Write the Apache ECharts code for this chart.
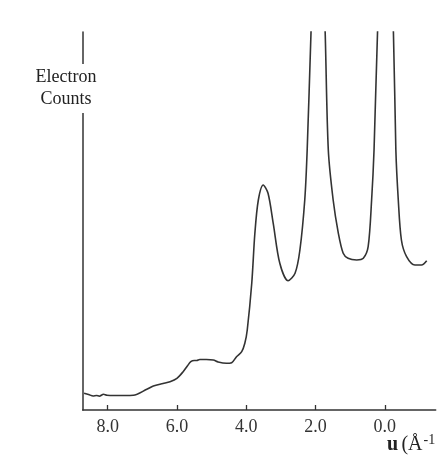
<!DOCTYPE html>
<html>
<head>
<meta charset="utf-8">
<script src="https://cdn.jsdelivr.net/npm/echarts@6/dist/echarts.min.js"></script>
<style>
  html, body { margin: 0; padding: 0; background: #fff; }
  #chart { width: 441px; height: 459px; }
</style>
</head>
<body>
<div id="chart"></div>
<script>
// Scattering vector u (Å^-1) along the profile, high to low
const uValues = [
  8.68, 8.55, 8.42, 8.32, 8.24, 8.12, 8.02, 7.80, 7.50, 7.26,
  6.87, 6.68, 6.40, 6.20, 6.00, 5.82, 5.70, 5.60, 5.50, 5.43, 5.34, 5.15,
  4.95, 4.81, 4.57, 4.42, 4.28, 4.13, 4.04, 3.97, 3.84, 3.75,
  3.65, 3.51, 3.37, 3.22, 3.03, 2.79, 2.59, 2.45, 2.31, 2.24,
  2.13, 2.05, 1.93, 1.80, 1.72, 1.63, 1.49, 1.34, 1.20, 1.06,
  0.81, 0.62, 0.48, 0.38, 0.31, 0.21, 0.10, -0.02, -0.14, -0.25,
  -0.32, -0.39, -0.48, -0.63, -0.87, -1.06, -1.21
];
// Electron counts (arbitrary units)
const counts = [
  16.7, 15.5, 14.0, 14.5, 13.8, 15.7, 14.7, 14.5, 14.5, 14.7,
  20.7, 24.0, 26.5, 28.3, 31.7, 38.3, 44.0, 48.3, 49.5, 49.5, 50.5, 50.5,
  50.0, 48.0, 46.7, 47.3, 53.3, 58.3, 66.7, 80.0, 126.7, 176.7,
  210.0, 225.0, 216.7, 186.7, 146.7, 129.3, 136.7, 160.0, 210.0, 260.0,
  377.0, 460.0, 500.0, 460.0, 377.0, 260.0, 210.0, 176.7, 156.7, 151.7,
  150.0, 151.7, 163.3, 210.0, 260.0, 377.0, 460.0, 500.0, 460.0, 377.0,
  260.0, 210.0, 170.0, 153.3, 145.0, 145.0, 149.3
];
// Labelled tick positions on the u axis
const tickValues = [8, 6, 4, 2, 0];
const tickLabels = ['8.0', '6.0', '4.0', '2.0', '0.0'];

const serif = '"Liberation Serif", "DejaVu Serif", serif';
const ink = '#333';

const chart = echarts.init(document.getElementById('chart'), null, { renderer: 'canvas' });

chart.setOption({
  backgroundColor: '#ffffff',
  animation: false,
  grid: { left: 82.7, right: 5.3, top: 32, bottom: 49, containLabel: false },
  xAxis: {
    type: 'value',
    inverse: true,
    min: -1.47,
    max: 8.72,
    axisLine: { show: true, onZero: false, lineStyle: { color: ink, width: 1.5 } },
    axisTick: {
      show: true, inside: true, length: 5,
      customValues: tickValues,
      lineStyle: { color: ink, width: 1.3 }
    },
    axisLabel: {
      show: true,
      customValues: tickValues,
      formatter: v => tickLabels[tickValues.indexOf(v)] ?? '',
      fontFamily: serif, fontSize: 18, color: '#333', margin: 8
    },
    splitLine: { show: false }
  },
  yAxis: {
    type: 'value',
    position: 'left',
    min: 0,
    max: 378,
    axisLine: { show: true, onZero: false, lineStyle: { color: ink, width: 1.5 } },
    axisTick: { show: false },
    axisLabel: { show: false },
    splitLine: { show: false }
  },
  series: [{
    type: 'line',
    data: uValues.map((u, i) => [u, counts[i]]),
    showSymbol: false,
    smooth: 0.3,
    clip: true,
    lineStyle: { color: ink, width: 1.6 }
  }],
  graphic: {
    elements: [
      // white break in the vertical axis behind its title
      {
        type: 'rect', z: 100, zlevel: 1,
        shape: { x: 30, y: 64, width: 72, height: 49 },
        style: { fill: '#ffffff' }
      },
      {
        type: 'text', z: 101, zlevel: 1, x: 66, y: 88,
        style: {
          text: 'Electron\nCounts',
          font: '18px ' + serif,
          fill: '#222',
          align: 'center', verticalAlign: 'middle',
          lineHeight: 22
        }
      },
      {
        type: 'text', z: 101, zlevel: 1, x: 387, y: 445,
        style: {
          text: '{b|u} {n|(Å}{s|-1}',
          verticalAlign: 'middle',
          rich: {
            b: { font: 'bold 20px ' + serif, fill: '#222' },
            n: { font: '20px ' + serif, fill: '#222' },
            s: { font: '14px ' + serif, fill: '#222', verticalAlign: 'top', padding: [0, 0, 10, 1] }
          }
        }
      }
    ]
  }
});
</script>
</body>
</html>
